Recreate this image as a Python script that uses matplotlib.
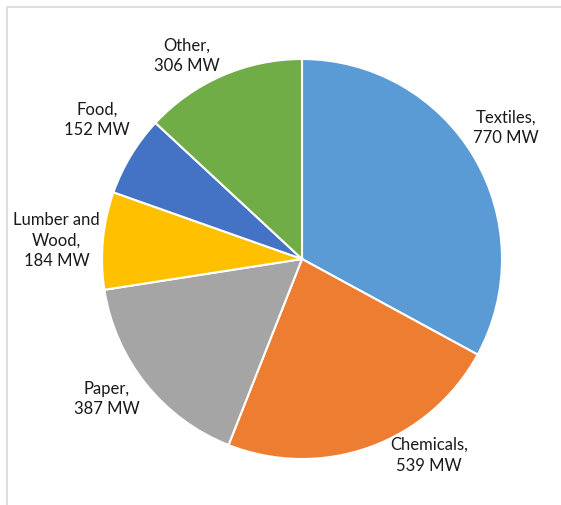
import numpy as np
import matplotlib.pyplot as plt
from matplotlib.patches import Rectangle

# Industry power demand (MW)
categories = ["Textiles", "Chemicals", "Paper", "Lumber and\nWood", "Food", "Other"]
values = [770, 539, 387, 184, 152, 306]
colors = ["#5B9BD5", "#ED7D31", "#A5A5A5", "#FFC000", "#4472C4", "#70AD47"]

# label placement tweaks (angle shift in degrees, radius factor)
label_shift = [2, 13, -3, 1, -3, 6]
label_dist = [1.21, 1.17, 1.2, 1.23, 1.24, 1.17]

plt.rcParams["font.family"] = ["Lato", "DejaVu Sans"]

fig = plt.figure(figsize=(5.61, 5.05), dpi=100)
ax = fig.add_axes([0, 0, 1, 1])

wedges, _ = ax.pie(
    values,
    colors=colors,
    startangle=90,
    counterclock=False,
    radius=1.0,
    wedgeprops=dict(edgecolor="white", linewidth=1.5),
)

for w, cat, val, sh, d in zip(wedges, categories, values, label_shift, label_dist):
    mid = np.deg2rad((w.theta1 + w.theta2) / 2 + sh)
    ax.text(
        d * np.cos(mid),
        d * np.sin(mid),
        f"{cat},\n{val} MW",
        ha="center",
        va="center",
        fontsize=12,
        color="#1a1a1a",
        linespacing=1.35,
    )

ax.set_xlim(-302 / 200, (561 - 302) / 200)
ax.set_ylim(-(505 - 259) / 200, 259 / 200)
ax.set_aspect("auto")
ax.axis("off")

# light chart-area border
fig.patches.append(
    Rectangle((7 / 561, -0.1), 1.2, 1 - 7 / 505 + 0.1, transform=fig.transFigure,
              fill=False, edgecolor="#d9d9d9", linewidth=1.2)
)

fig.savefig("out.png", dpi=100)
